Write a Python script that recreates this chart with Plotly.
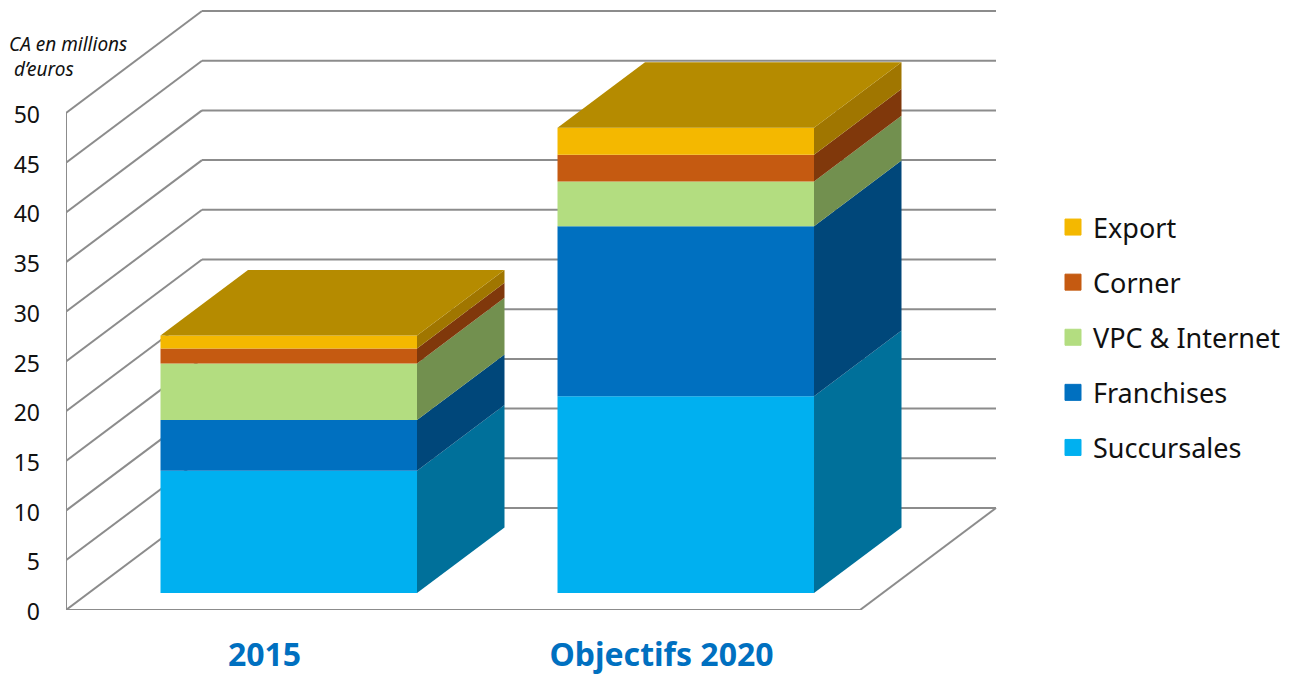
import plotly.graph_objects as go

# ---- data ----
categories = ["2015", "Objectifs 2020"]
series_names = ["Succursales", "Franchises", "VPC & Internet", "Corner", "Export"]
succursales = [12.3, 19.8]
franchises = [5.1, 17.1]
vpc_internet = [5.7, 4.5]
corner = [1.5, 2.7]
export = [1.3, 2.7]
y_ticks = [0, 5, 10, 15, 20, 25, 30, 35, 40, 45, 50]

series_values = [succursales, franchises, vpc_internet, corner, export]

# ---- style ----
front_colors = ["#00B0F0", "#0070C0", "#B3DD80", "#C55A11", "#F4B800"]
side_colors = ["#00709A", "#00477A", "#72904F", "#80380B", "#A07600"]
top_color = "#B58B00"
grid_color = "#8C8C8C"
font_family = "Noto Sans"

# ---- oblique projection (in axis units) ----
W, H = 1289, 674
L, B = 66, 64
PX_PER_CAT = 397.0
PX_PER_VAL = 9.94
DEPTH_X = 136 / PX_PER_CAT
DEPTH_Y = 102 / PX_PER_VAL
D_FRONT, D_BACK = 0.1667, 0.81
BAR_W = 256.5 / PX_PER_CAT
BAR_NUDGE = 0.004


def project(x, v, d):
    return x + d * DEPTH_X, v + d * DEPTH_Y


shapes = []


def line(p, q):
    shapes.append(dict(type="line", xref="x", yref="y", x0=p[0], y0=p[1], x1=q[0], y1=q[1],
                       layer="below", line=dict(color=grid_color, width=2)))


n_cat = len(categories)
for v in y_ticks:
    line(project(0, v, 0), project(0, v, 1))
    line(project(0, v, 1), project(n_cat, v, 1))
line(project(0, 0, 0), project(0, y_ticks[-1], 0))
line(project(0, 0, 0), project(n_cat, 0, 0))
line(project(n_cat, 0, 0), project(n_cat, 0, 1))

fig = go.Figure()

for c in range(n_cat):
    left = c + 0.5 - BAR_W / 2 + BAR_NUDGE
    right = left + BAR_W
    cum = 0.0
    for s, values in enumerate(series_values):
        val = values[c]
        bx, by = project(c + 0.5 + BAR_NUDGE, cum, D_FRONT)
        fig.add_trace(go.Bar(x=[bx], y=[val], base=[by], width=[BAR_W],
                             marker=dict(color=front_colors[s], line=dict(width=0)),
                             showlegend=False, hoverinfo="skip"))
        pts = [project(right, cum, D_FRONT), project(right, cum, D_BACK),
               project(right, cum + val, D_BACK), project(right, cum + val, D_FRONT),
               project(right, cum, D_FRONT)]
        fig.add_trace(go.Scatter(x=[p[0] for p in pts], y=[p[1] for p in pts], mode="lines",
                                 fill="toself", fillcolor=side_colors[s], line=dict(width=0),
                                 showlegend=False, hoverinfo="skip"))
        cum += val
    pts = [project(left, cum, D_FRONT), project(right, cum, D_FRONT),
           project(right, cum, D_BACK), project(left, cum, D_BACK), project(left, cum, D_FRONT)]
    fig.add_trace(go.Scatter(x=[p[0] for p in pts], y=[p[1] for p in pts], mode="lines",
                             fill="toself", fillcolor=top_color, line=dict(width=0),
                             showlegend=False, hoverinfo="skip"))

for s in reversed(range(len(series_names))):
    name = series_names[s]
    fig.add_trace(go.Scatter(x=[None], y=[None], mode="markers", name=name, legendgroup=name,
                             marker=dict(symbol="square", size=16, color=front_colors[s],
                                         line=dict(width=1, color=front_colors[s]))))

plot_w = W - L
plot_h = H - B
fig.update_layout(
    width=W, height=H, autosize=False,
    margin=dict(l=L, r=0, t=0, b=B, pad=0, autoexpand=False),
    paper_bgcolor="white", plot_bgcolor="white",
    barmode="overlay", shapes=shapes,
    font=dict(family=font_family, color="#111111"),
    xaxis=dict(range=[0, plot_w / PX_PER_CAT], tickvals=[i + 0.5 for i in range(n_cat)],
               ticktext=categories, showgrid=False, zeroline=False, showline=False, ticks="",
               automargin=False, ticklabelstandoff=23,
               tickfont=dict(size=32, color="#0070C0", family=font_family, weight="bold")),
    yaxis=dict(range=[0, plot_h / PX_PER_VAL], tickvals=y_ticks, showgrid=False, zeroline=False,
               showline=False, ticks="", automargin=False, ticklabelstandoff=25, ticklabelshift=2,
               tickfont=dict(size=23, color="#111111")),
    legend=dict(x=(1061 - L) / plot_w, xanchor="left", y=(674 - 203 - B) / plot_h, yanchor="top",
                traceorder="grouped", tracegroupgap=17, indentation=-8,
                font=dict(size=27, color="#111111"), bgcolor="rgba(0,0,0,0)", borderwidth=0),
    annotations=[dict(text="<i>CA en millions<br>\u00a0d\u2019euros</i>", xref="paper", yref="paper",
                      x=(7 - L) / plot_w, y=(674 - 29 - B) / plot_h, xanchor="left", yanchor="top",
                      align="left", showarrow=False, font=dict(size=19, color="#111111"))],
)

fig.write_html("out.html", config={"displayModeBar": False}, post_script="document.body.style.margin='0';")
